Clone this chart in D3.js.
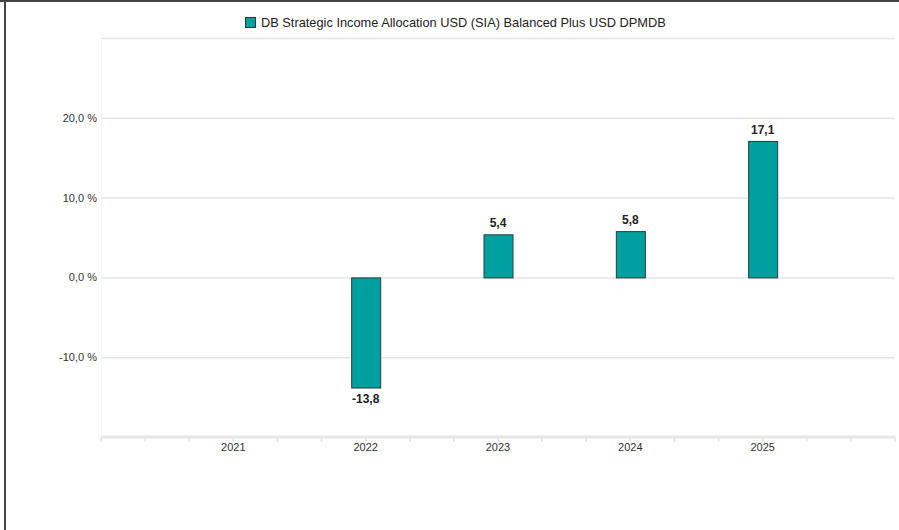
<!DOCTYPE html>
<html lang="de">
<head>
<meta charset="UTF-8">
<title>DB SIA Balanced Plus</title>
<script src="https://d3js.org/d3.v7.min.js"></script>
<style>
  body { margin: 0; background: #fff; }
  text { font-family: "Liberation Sans", Arial, sans-serif; }
</style>
</head>
<body>
<script>
  const seriesName = "DB Strategic Income Allocation USD (SIA) Balanced Plus USD DPMDB";
  const years = ["2021", "2022", "2023", "2024", "2025"];
  const values = [null, -13.8, 5.4, 5.8, 17.1];
  const yTicks = [-10, 0, 10, 20];
  const yGrid = [-10, 0, 10, 20, 30];

  const width = 899, height = 530;
  const margin = {left: 101, right: 4, top: 38, bottom: 93};
  const teal = "#00a0a0";

  const svg = d3.select("body").append("svg")
      .attr("width", width).attr("height", height);

  // frame (top + left edges)
  svg.append("line").attr("x1", 0).attr("x2", width).attr("y1", 1).attr("y2", 1)
      .style("stroke", "#444").style("stroke-width", 2);
  svg.append("line").attr("x1", 5).attr("x2", 5).attr("y1", 0).attr("y2", height)
      .style("stroke", "#444").style("stroke-width", 2);

  const x = d3.scalePoint().domain(years)
      .range([margin.left, width - margin.right]).padding(1);
  const y = d3.scaleLinear().domain([-20, 30])
      .range([height - margin.bottom, margin.top]);

  const fmt = v => d3.format(".1f")(v).replace(".", ",").replace("\u2212", "-");

  // gridlines
  svg.append("g").selectAll("line")
      .data(yGrid).enter().append("line")
      .attr("x1", margin.left).attr("x2", width - margin.right)
      .attr("y1", d => y(d) + 0.5).attr("y2", d => y(d) + 0.5)
      .style("stroke", "#e6e6e6").style("stroke-width", 1.5);

  svg.append("line")
      .attr("x1", margin.left + 0.5).attr("x2", margin.left + 0.5)
      .attr("y1", margin.top).attr("y2", y(-20))
      .style("stroke", "#f4f4f4");

  // y labels
  svg.append("g").selectAll("text")
      .data(yTicks).enter().append("text")
      .attr("x", margin.left - 4).attr("y", d => y(d) + 4)
      .attr("text-anchor", "end")
      .style("font-size", "11px").style("fill", "#333")
      .text(d => fmt(d) + " %");

  // x axis with minor ticks (3 per step)
  const step = x.step();
  const minor = d3.range(0, (years.length + 1) * 3 + 1).map(i => margin.left + i * step / 3);
  svg.append("g").selectAll("line")
      .data(minor).enter().append("line")
      .attr("x1", d => d).attr("x2", d => d)
      .attr("y1", y(-20)).attr("y2", y(-20) + 5)
      .style("stroke", "#e2e2e2").style("stroke-width", 1.5);
  svg.append("line")
      .attr("x1", margin.left).attr("x2", width - margin.right)
      .attr("y1", y(-20)).attr("y2", y(-20))
      .style("stroke", "#e6e6e6").style("stroke-width", 3);

  svg.append("g").selectAll("text")
      .data(years).enter().append("text")
      .attr("x", d => x(d)).attr("y", y(-20) + 14)
      .attr("text-anchor", "middle")
      .style("font-size", "11px").style("fill", "#333")
      .text(d => d);

  // bars
  const barW = 29;
  const data = years.map((d, i) => ({year: d, value: values[i]})).filter(d => d.value != null);

  svg.append("g").selectAll("rect")
      .data(data).enter().append("rect")
      .attr("x", d => x(d.year) - barW / 2 + 0.5)
      .attr("y", d => y(Math.max(0, d.value)) + 0.5)
      .attr("width", barW)
      .attr("height", d => Math.abs(y(d.value) - y(0)))
      .style("fill", teal)
      .style("stroke", "#2b3a3a").style("stroke-width", 1);

  svg.append("g").selectAll("text")
      .data(data).enter().append("text")
      .attr("x", d => x(d.year))
      .attr("y", d => d.value >= 0 ? y(d.value) - 7 : y(d.value) + 15)
      .attr("text-anchor", "middle")
      .style("font-size", "12px").style("font-weight", "bold").style("fill", "#222")
      .text(d => fmt(d.value));

  // legend
  const legend = svg.append("g").attr("transform", "translate(245,17)");
  legend.append("rect").attr("x", 0.5).attr("y", 0.5).attr("width", 10).attr("height", 10)
      .style("fill", teal).style("stroke", "#2b3a3a");
  legend.append("text").attr("x", 16).attr("y", 10)
      .style("font-size", "12.8px").style("fill", "#222")
      .text(seriesName);
</script>
</body>
</html>
